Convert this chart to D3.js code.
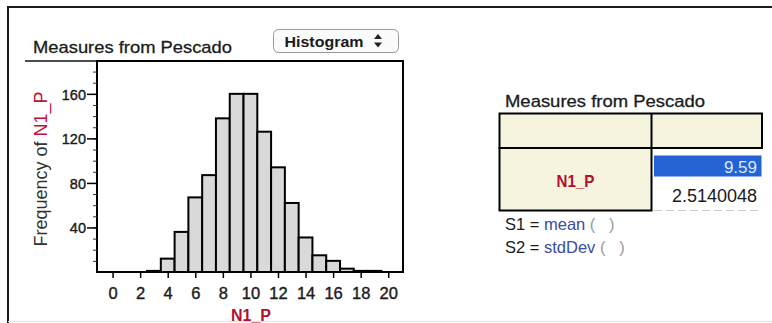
<!DOCTYPE html>
<html>
<head>
<meta charset="utf-8">
<script src="https://cdn.jsdelivr.net/npm/d3@7"></script>
<style>
  body { margin: 0; background: #fff; }
  svg { display: block; font-family: "Liberation Sans", Arial, sans-serif; }
</style>
</head>
<body>
<div id="chart"></div>
<script>
// histogram bins (centred on whole numbers) and their frequencies
const binCenters = [0, 1, 2, 3, 4, 5, 6, 7, 8, 9, 10, 11, 12, 13, 14, 15, 16, 17, 18, 19, 20];
const binCounts  = [0, 0, 0, 1, 12, 36, 67, 87, 138, 160, 160, 126, 94, 62, 31, 15, 10, 3, 1, 1, 0];
const xTicks = [0, 2, 4, 6, 8, 10, 12, 14, 16, 18, 20];
const yTicks = [40, 80, 120, 160];
const yMinorTicks = [10, 20, 30, 40, 50, 60, 70, 80, 90, 100, 110, 120, 130, 140, 150, 160, 170, 180];

// summary table
const attrName = 'N1_P';
const summaryValues = ['9.59', '2.5140048'];
const summaryFormulas = [
  { label: 'S1', fn: 'mean' },
  { label: 'S2', fn: 'stdDev' }
];

const W = 772, H = 323;
const plot = { left: 97, right: 403, top: 61, bottom: 272 };

const svg = d3.select('#chart').append('svg')
  .attr('width', W)
  .attr('height', H);

// outer window frame
svg.append('path')
  .attr('d', 'M8,' + H + 'V7H' + W)
  .attr('fill', 'none')
  .attr('stroke', '#1a1a1a')
  .attr('stroke-width', 2);
svg.append('line')
  .attr('x1', 8).attr('x2', W).attr('y1', 321.5).attr('y2', 321.5)
  .attr('stroke', '#e2e2e2');

const x = d3.scaleLinear().domain([-1.13, 21.07]).range([plot.left, plot.right]);
const y = d3.scaleLinear().domain([0, 189.5]).range([plot.bottom, plot.top]);

// graph title and underline
svg.append('text')
  .attr('x', 33).attr('y', 53)
  .attr('font-size', 17)
  .attr('textLength', 199).attr('lengthAdjust', 'spacingAndGlyphs')
  .attr('fill', '#1c1c1c').attr('stroke', '#1c1c1c').attr('stroke-width', 0.3)
  .text('Measures from Pescado');
svg.append('line')
  .attr('x1', 25).attr('x2', plot.left).attr('y1', plot.top).attr('y2', plot.top)
  .attr('stroke', '#111').attr('stroke-width', 1.5);

// "Histogram" popup button
const btn = svg.append('g').attr('transform', 'translate(273.5,29.5)');
btn.append('rect')
  .attr('width', 125).attr('height', 23).attr('rx', 5)
  .attr('fill', '#fbfbfb').attr('stroke', '#9a9a9a');
btn.append('text')
  .attr('x', 11).attr('y', 17.5)
  .attr('font-size', 15).attr('font-weight', 'bold')
  .attr('textLength', 79).attr('lengthAdjust', 'spacingAndGlyphs')
  .attr('fill', '#1a1a1a')
  .text('Histogram');
btn.append('path').attr('d', 'M104.5,4.5l4,5h-8z').attr('fill', '#222');
btn.append('path').attr('d', 'M104.5,18l4,-5h-8z').attr('fill', '#222');

// bars
svg.append('g')
  .selectAll('rect')
  .data(binCenters.map((c, i) => ({ c: c, n: binCounts[i] })).filter(d => d.n > 0))
  .enter().append('rect')
  .attr('x', d => x(d.c - 0.5))
  .attr('y', d => y(d.n))
  .attr('width', d => x(d.c + 0.5) - x(d.c - 0.5))
  .attr('height', d => y(0) - y(d.n))
  .attr('fill', '#d9d9d9')
  .attr('stroke', '#000')
  .attr('stroke-width', 2);

// plot frame
svg.append('rect')
  .attr('x', plot.left).attr('y', plot.top)
  .attr('width', plot.right - plot.left).attr('height', plot.bottom - plot.top)
  .attr('fill', 'none').attr('stroke', '#000').attr('stroke-width', 2);

// x axis
const xAxis = svg.append('g')
  .attr('transform', 'translate(0,' + plot.bottom + ')')
  .call(d3.axisBottom(x).tickValues(xTicks).tickSize(6).tickFormat(d3.format('d')));
xAxis.select('.domain').remove();
xAxis.selectAll('line').attr('stroke', '#000').attr('stroke-width', 1.5);
xAxis.selectAll('text')
  .attr('y', 26.5).attr('dy', null)
  .attr('font-size', 16.5)
  .attr('fill', '#1c1c1c').attr('stroke', '#1c1c1c').attr('stroke-width', 0.4);

// y axis: minor ticks then labelled ticks
const yMinor = svg.append('g')
  .attr('transform', 'translate(' + plot.left + ',0)')
  .call(d3.axisLeft(y).tickValues(yMinorTicks).tickSize(4).tickFormat(''));
yMinor.select('.domain').remove();
yMinor.selectAll('line').attr('stroke', '#333');

const yAxis = svg.append('g')
  .attr('transform', 'translate(' + plot.left + ',0)')
  .call(d3.axisLeft(y).tickValues(yTicks).tickSize(10).tickPadding(1));
yAxis.select('.domain').remove();
yAxis.selectAll('line').attr('stroke', '#000').attr('stroke-width', 1.5);
yAxis.selectAll('text')
  .attr('font-size', 14.5)
  .attr('dy', '0.36em')
  .attr('fill', '#1c1c1c').attr('stroke', '#1c1c1c').attr('stroke-width', 0.4);

// axis titles
const yTitle = svg.append('text')
  .attr('transform', 'translate(46.5,169) rotate(-90)')
  .attr('text-anchor', 'middle')
  .attr('font-size', 18);
yTitle.append('tspan').attr('fill', '#333').text('Frequency of ');
yTitle.append('tspan').attr('fill', '#c01035').text(attrName);

svg.append('text')
  .attr('x', 251).attr('y', 321)
  .attr('text-anchor', 'middle')
  .attr('font-size', 16).attr('font-weight', 'bold')
  .attr('fill', '#b0102e')
  .text(attrName);

// summary table
const tbl = { left: 499.5, mid: 651.5, right: 762, top: 113.5, row: 148, bottom: 210.5 };

svg.append('text')
  .attr('x', 505).attr('y', 107)
  .attr('font-size', 17)
  .attr('textLength', 200).attr('lengthAdjust', 'spacingAndGlyphs')
  .attr('fill', '#1c1c1c').attr('stroke', '#1c1c1c').attr('stroke-width', 0.3)
  .text('Measures from Pescado');

svg.append('rect')
  .attr('x', tbl.left).attr('y', tbl.top)
  .attr('width', tbl.right - tbl.left).attr('height', tbl.row - tbl.top)
  .attr('fill', '#f6f4df').attr('stroke', '#000').attr('stroke-width', 2);
svg.append('line')
  .attr('x1', tbl.mid).attr('x2', tbl.mid).attr('y1', tbl.top).attr('y2', tbl.row)
  .attr('stroke', '#000').attr('stroke-width', 2);
svg.append('rect')
  .attr('x', tbl.left).attr('y', tbl.row)
  .attr('width', tbl.mid - tbl.left).attr('height', tbl.bottom - tbl.row)
  .attr('fill', '#f6f4df').attr('stroke', '#000').attr('stroke-width', 2);

svg.append('text')
  .attr('x', (tbl.left + tbl.mid) / 2).attr('y', 186.5)
  .attr('text-anchor', 'middle')
  .attr('font-size', 17).attr('font-weight', 'bold')
  .attr('textLength', 38).attr('lengthAdjust', 'spacingAndGlyphs')
  .attr('fill', '#b0102e')
  .text(attrName);

// selected first value
svg.append('rect')
  .attr('x', 654).attr('y', 155.5)
  .attr('width', 107.5).attr('height', 21)
  .attr('fill', '#2462d6');

const cellY = [173, 201.5];
svg.append('g')
  .selectAll('text')
  .data(summaryValues)
  .enter().append('text')
  .attr('x', 757)
  .attr('y', (d, i) => cellY[i])
  .attr('text-anchor', 'end')
  .attr('font-size', (d, i) => i === 0 ? 17 : 18)
  .attr('fill', (d, i) => i === 0 ? '#dbeaff' : '#1a1a1a')
  .text(d => d);

svg.append('line')
  .attr('x1', 654).attr('x2', 760).attr('y1', 210.5).attr('y2', 210.5)
  .attr('stroke', '#c8c8c8').attr('stroke-dasharray', '8,4');

// formula lines
const fLines = svg.append('g')
  .selectAll('text')
  .data(summaryFormulas)
  .enter().append('text')
  .attr('x', 505)
  .attr('y', (d, i) => 230 + i * 23.3)
  .attr('font-size', 16.5)
  .attr('xml:space', 'preserve');
fLines.append('tspan').attr('fill', '#1a1a1a').text(d => d.label + ' = ');
fLines.append('tspan').attr('fill', '#3a4ca6').text(d => d.fn + ' ');
fLines.append('tspan').attr('fill', '#9a9a9a').text('(   )');
</script>
</body>
</html>
